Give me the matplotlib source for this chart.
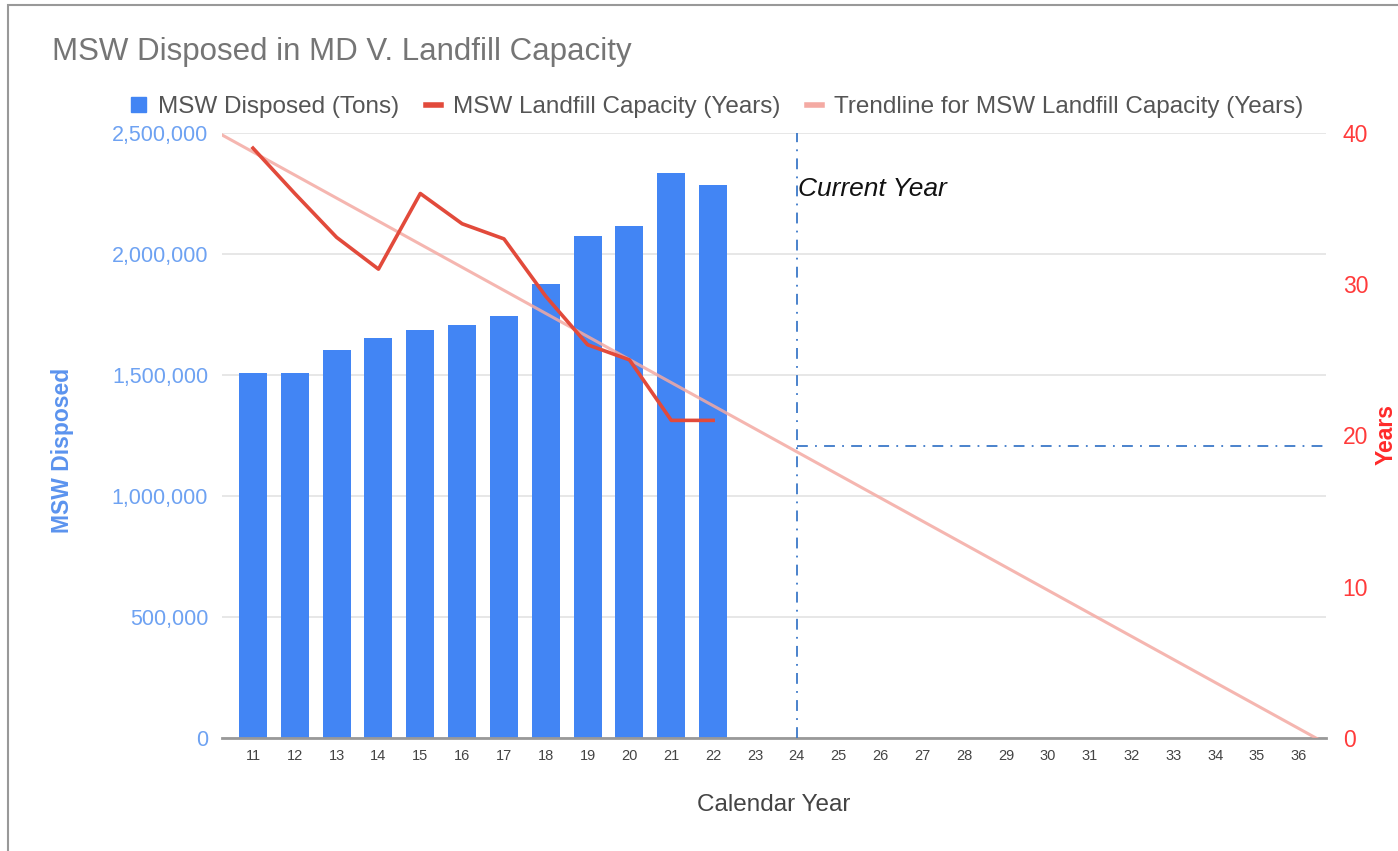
import numpy as np
import matplotlib
matplotlib.use("Agg")
import matplotlib.pyplot as plt
from matplotlib.lines import Line2D
from matplotlib.patches import Patch
from matplotlib.ticker import FuncFormatter

plt.rcParams["font.family"] = ["Liberation Sans", "DejaVu Sans"]

# data
years = list(range(11, 37))
bar_years = list(range(11, 23))
msw_disposed = [1509000, 1509000, 1603000, 1654000, 1686000, 1705000,
                1744000, 1876000, 2074000, 2117000, 2336000, 2285000]
capacity_years = [39.0, 36.0, 33.1, 31.0, 36.0, 34.0, 33.0, 29.2, 26.0, 25.0, 21.0, 21.0]
current_year = 24
current_capacity = 19.3

left_ticks = [0, 500000, 1000000, 1500000, 2000000, 2500000]
right_ticks = [0, 10, 20, 30, 40]

BLUE = "#4285f4"
RED = "#e24a3b"
TREND = "#f4aaa3"
GUIDE = "#3c78c8"

fig = plt.figure(figsize=(13.98, 8.51), dpi=100)
ax = fig.add_axes([222 / 1398, 1 - 738 / 851, (1326 - 222) / 1398, (738 - 133) / 851])
ax2 = ax.twinx()

ax.bar(bar_years, msw_disposed, width=0.67, color=BLUE, zorder=2)
ax.set_ylim(0, 2500000)
ax.set_yticks(left_ticks)
ax.yaxis.set_major_formatter(FuncFormatter(lambda v, p: f"{int(v):,}"))
ax.grid(axis="y", color="#e3e3e3", lw=1.2, zorder=0)
ax.set_axisbelow(True)
ax.set_xlim(10.26, 36.65)
ax.set_xticks(years)
ax.set_xticklabels([str(y) for y in years])

# trendline = linear fit of the capacity series
slope, icpt = np.polyfit(bar_years, capacity_years, 1)
xt = np.array(ax.get_xlim())
ax2.plot(xt, slope * xt + icpt, color=TREND, lw=2.2, alpha=0.85, zorder=3)
ax2.plot(bar_years, capacity_years, color=RED, lw=2.6, zorder=4)
ax2.set_ylim(0, 40)
ax2.set_yticks(right_ticks)

# current year guides
ax2.plot([current_year, current_year], [0, 40], color=GUIDE, lw=1.3,
         ls=(0, (6, 4, 1, 4)), zorder=5)
ax2.plot([current_year, ax.get_xlim()[1]], [current_capacity, current_capacity],
         color=GUIDE, lw=1.3, ls=(0, (6, 4, 1, 4)), zorder=5)
ax2.text(current_year + 0.03, 36.3, "Current Year", fontsize=19, style="italic",
         color="#111111", va="center", ha="left")

for a in (ax, ax2):
    for s in a.spines.values():
        s.set_visible(False)
ax.spines["bottom"].set_visible(True)
ax.spines["bottom"].set_color("#999999")
ax.spines["bottom"].set_linewidth(2)

ax.tick_params(axis="y", length=0, labelsize=15.5, labelcolor="#6ea2f2", pad=10)
ax.tick_params(axis="x", length=0, labelsize=10.5, labelcolor="#444444", pad=8)
ax2.tick_params(axis="y", length=0, labelsize=16.5, labelcolor="#ff3b3b", pad=12)

ax.set_xlabel("Calendar Year", fontsize=17.5, color="#444444")
ax.xaxis.set_label_coords(0.5, -(805 - 738) / (738 - 133))
ax.xaxis.label.set_va("center")
ax.set_ylabel("MSW Disposed", fontsize=16.5, color="#5b93ee", fontweight="bold")
ax.yaxis.set_label_coords(-(222 - 63) / (1326 - 222), (738 - 450) / (738 - 133))
ax.yaxis.label.set_va("center")
ax2.set_ylabel("Years", fontsize=16.5, color="#ff2a2a", fontweight="bold")
ax2.yaxis.set_label_coords(1 + (1386 - 1326) / (1326 - 222), (738 - 435) / (738 - 133))
ax2.yaxis.label.set_va("center")

fig.text(52 / 1398, 1 - 52 / 851, "MSW Disposed in MD V. Landfill Capacity",
         fontsize=22.5, color="#757575", va="center", ha="left")

handles = [
    Patch(facecolor=BLUE, edgecolor=BLUE),
    Line2D([0], [0], color=RED, lw=4),
    Line2D([0], [0], color=TREND, lw=4),
]
labels = ["MSW Disposed (Tons)", "MSW Landfill Capacity (Years)",
          "Trendline for MSW Landfill Capacity (Years)"]
leg = fig.legend(handles, labels, loc="center", bbox_to_anchor=(0.513, 1 - 107 / 851),
                 ncol=3, frameon=False, fontsize=17.5, handlelength=0.62,
                 handleheight=0.62, handletextpad=0.5, columnspacing=1.1)
for t in leg.get_texts():
    t.set_color("#555555")

# outer chart border
fig.add_artist(plt.Rectangle((8 / 1398, -0.05), 1.2, 1 - 5 / 851 + 0.05,
                             transform=fig.transFigure, fill=False,
                             edgecolor="#999999", lw=1.5))

fig.savefig("out.png", dpi=100)
